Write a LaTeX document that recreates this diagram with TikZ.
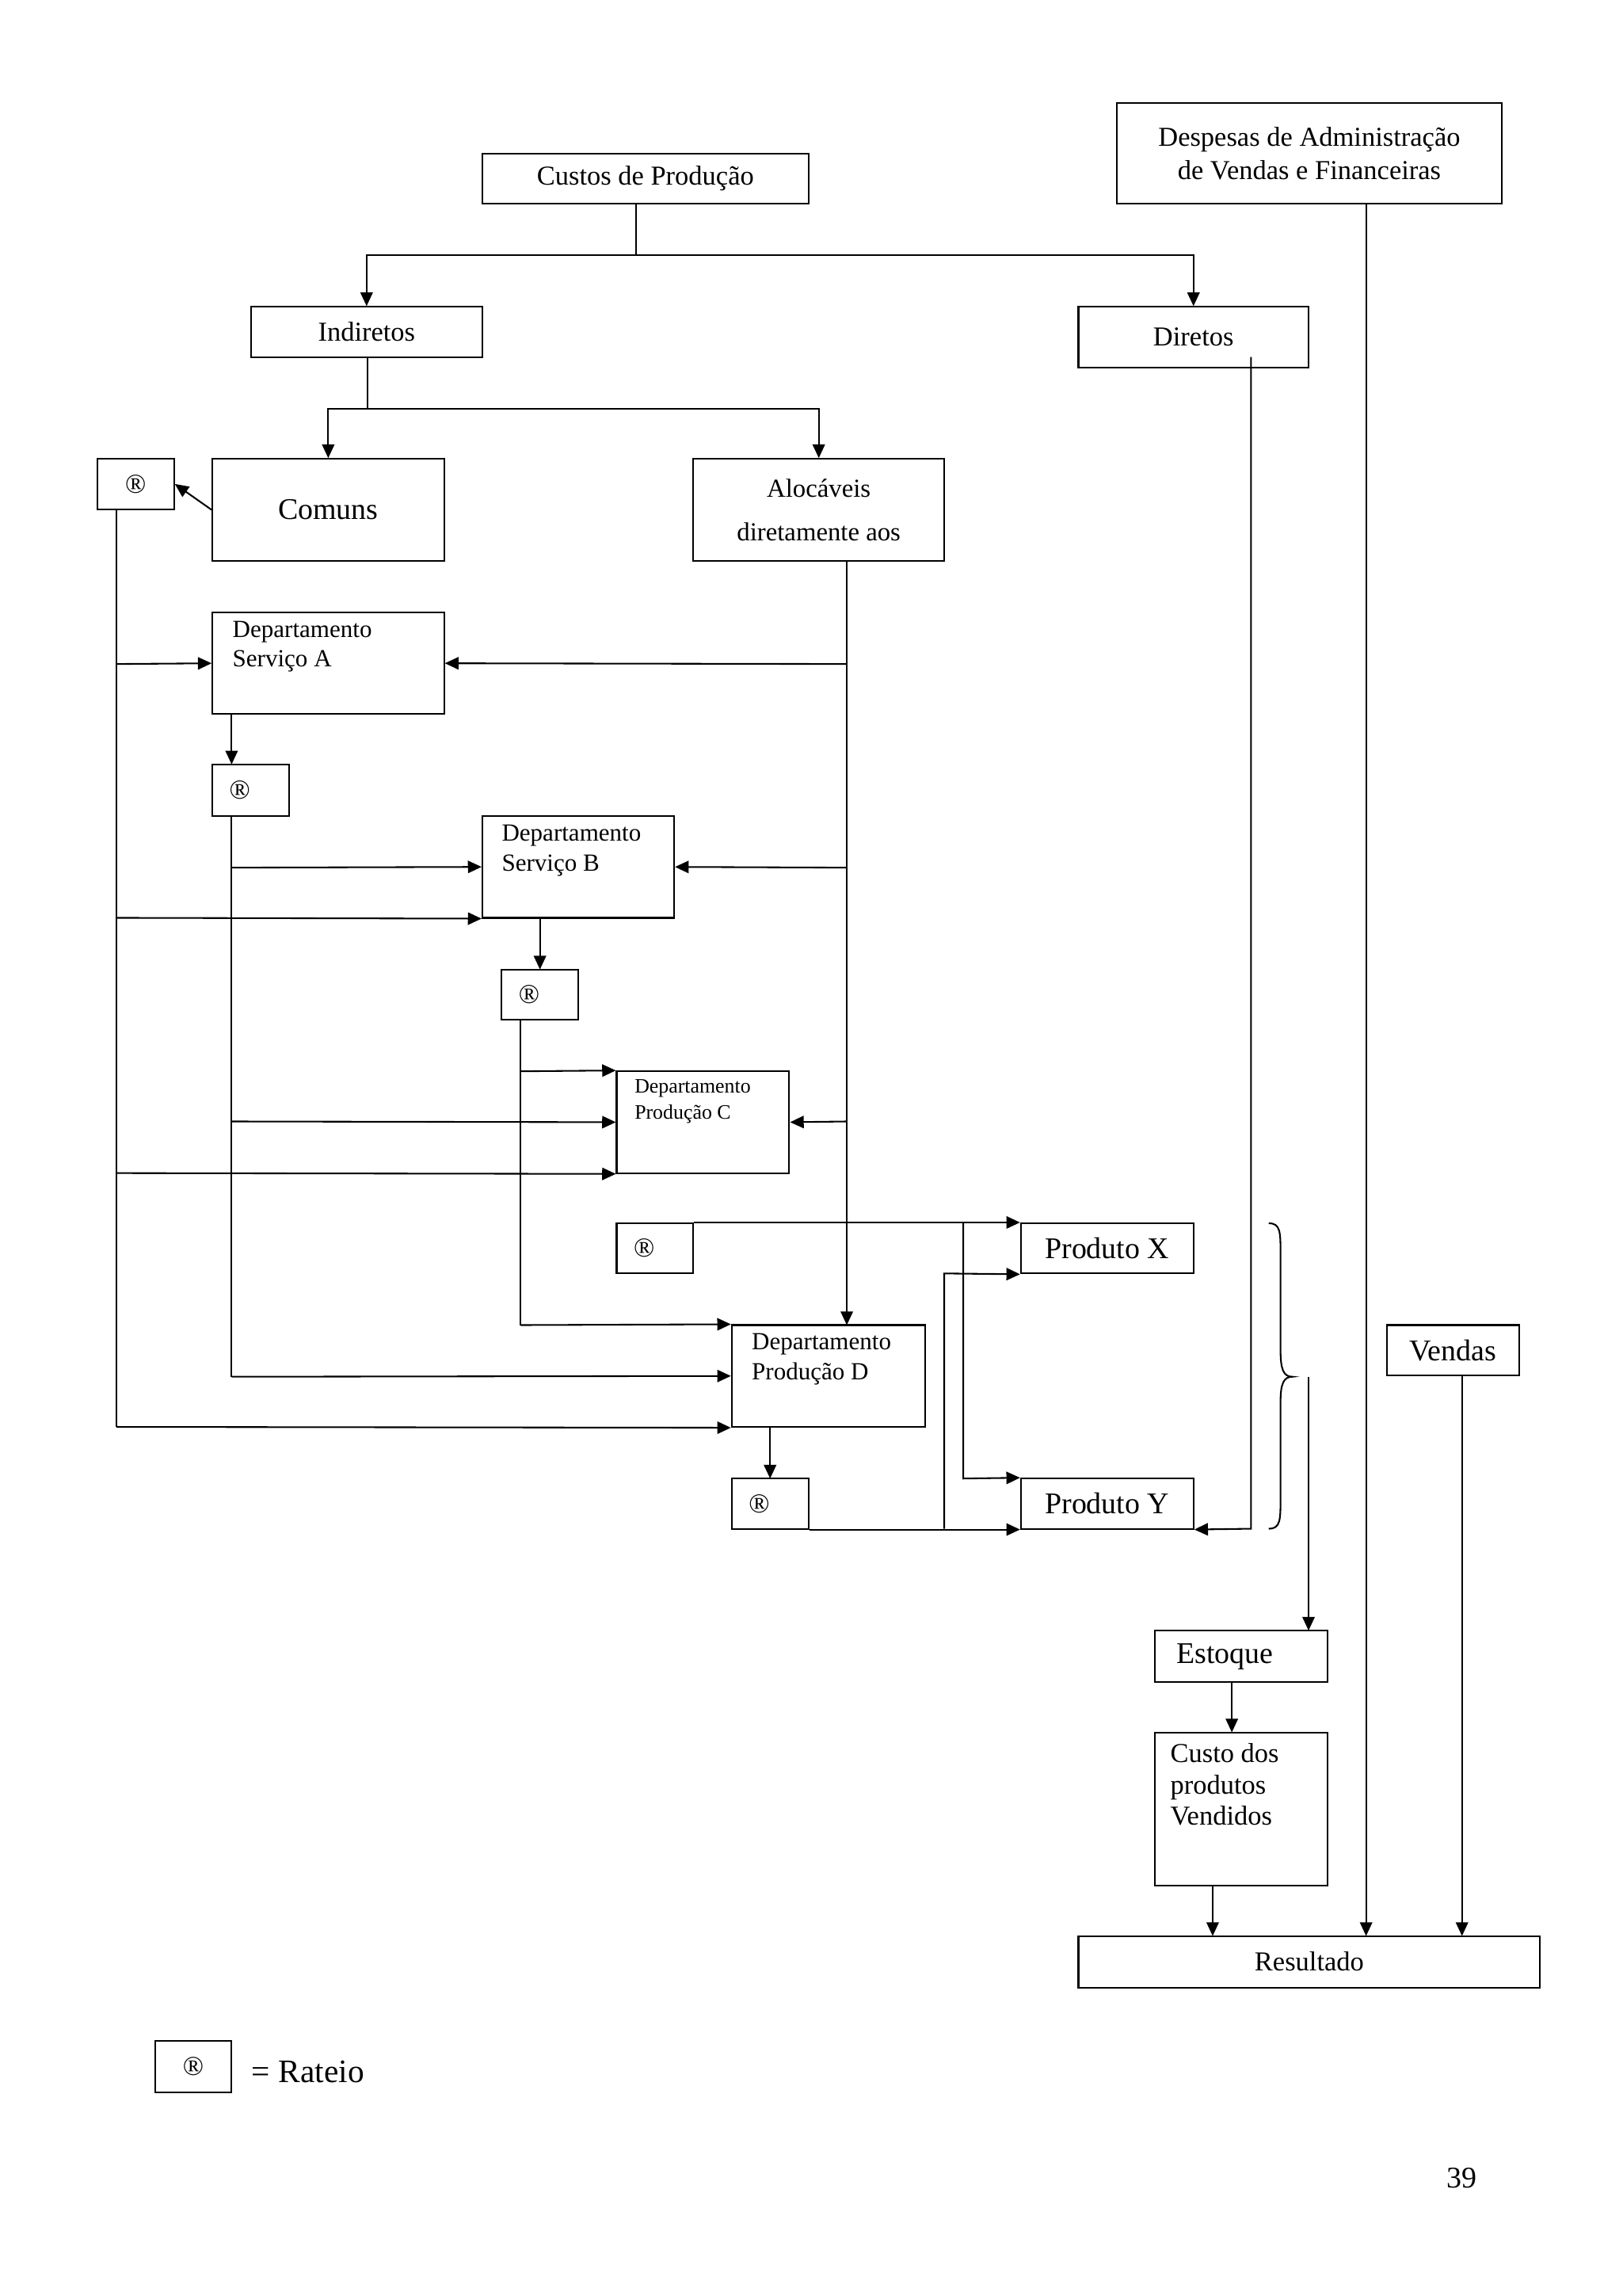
\documentclass[tikz,border=0pt]{standalone}
\usepackage{fontspec}
\setmainfont{Liberation Serif}
\usetikzlibrary{arrows.meta}
\begin{document}
\begin{tikzpicture}[x=0.54pt,y=-0.54pt,
  line width=0.6pt,
  arr/.style={-{Triangle[length=5pt,width=4.5pt]}},
  box/.style={draw,rectangle,inner sep=0pt,font=\fontsize{10}{12}\selectfont}]
\useasboundingbox (0,0) rectangle (1100,1556);
\newcommand\bx[6][]{%
  \pgfmathsetmacro\bw{(#4-#2)*0.54}\pgfmathsetmacro\bh{(#5-#3)*0.54}%
  \node[box,minimum width=\bw pt,minimum height=\bh pt,#1] (#6) at ({(#2+#4)/2},{(#3+#5)/2})}
\newcommand\dept[2]{\parbox[c][#1][t]{#2}}
\bx{327}{104}{548}{138}{cp}{Custos de Produção};
\bx[align=center]{757}{70}{1018}{138}{desp}{Despesas de Administração\\de Vendas e Financeiras};
\bx{170}{208}{327}{242}{ind}{Indiretos};
\bx{731}{208}{887}{249}{dir}{Diretos};
\bx{66}{311}{118}{345}{r1}{®};
\bx[font=\fontsize{11}{13}\selectfont]{144}{311}{301}{380}{com}{Comuns};
\bx[align=center,font=\fontsize{9.5}{16}\selectfont]{470}{311}{640}{380}{alo}{Alocáveis\\diretamente aos};
\bx[font=\fontsize{9}{11}\selectfont]{144}{415}{301}{484}{dA}{\dept{31pt}{70pt}{Departamento\\Serviço A}};
\bx{144}{518}{196}{553}{r2}{\hspace*{-8pt}®};
\bx[font=\fontsize{9}{11}\selectfont]{327}{553}{457}{622}{dB}{\dept{31pt}{56pt}{Departamento\\Serviço B}};
\bx{340}{657}{392}{691}{r3}{\hspace*{-8pt}®};
\bx[font=\fontsize{7.5}{9.5}\selectfont]{418}{726}{535}{795}{dC}{\dept{31pt}{50pt}{Departamento\\Produção C}};
\bx{418}{829}{470}{863}{r4}{\hspace*{-8pt}®};
\bx[font=\fontsize{11}{13}\selectfont]{692}{829}{809}{863}{pX}{Produto X};
\bx[font=\fontsize{9}{11}\selectfont]{496}{898}{627}{967}{dD}{\dept{31pt}{56pt}{Departamento\\Produção D}};
\bx{496}{1002}{548}{1036}{r5}{\hspace*{-8pt}®};
\bx[font=\fontsize{11}{13}\selectfont]{692}{1002}{809}{1036}{pY}{Produto Y};
\bx[font=\fontsize{11}{13}\selectfont]{940}{898}{1030}{932}{ven}{Vendas};
\bx[font=\fontsize{11}{13}\selectfont]{783}{1105}{900}{1140}{est}{\hspace*{-12pt}Estoque};
\bx[font=\fontsize{10}{11.5}\selectfont]{783}{1174}{900}{1278}{cpv}{\dept{48pt}{52pt}{Custo dos\\produtos\\Vendidos}};
\bx{731}{1312}{1044}{1347}{res}{Resultado};
\bx{105}{1383}{157}{1418}{leg}{®};
\node[anchor=west,font=\fontsize{12}{14}\selectfont] (rat) at (164,1404) {= Rateio};
\node[font=\fontsize{11}{13}\selectfont] (pg) at (991,1476) {39};
% top tree
\draw (431,138) -- (431,173);
\draw[arr] (431,173) -| (ind.north);
\draw[arr] (431,173) -| (dir.north);
\draw (249,242) -- (249,277);
\draw[arr] (249,277) -| (com.north);
\draw[arr] (249,277) -| (alo.north);
\draw[arr] (com.west) -- (r1.east);
% R1 trunk
\draw (79,345) -- (79,967);
\draw[arr] (79,450) -- (dA.west);
\draw[arr] (79,622) -- (dB.south west);
\draw[arr] (79,795) -- (dC.south west);
\draw[arr] (79,967) -- (dD.south west);
% Alocaveis trunk
\draw[arr] (574,380) -- (574,898);
\draw[arr] (574,450) -- (dA.east);
\draw[arr] (574,588) -- (dB.east);
\draw[arr] (574,760) -- (dC.east);
% A -> R2
\draw[arr] (157,484) -- (157,518);
\draw (157,553) -- (157,933);
\draw[arr] (157,588) -- (dB.west);
\draw[arr] (157,760) -- (dC.west);
\draw[arr] (157,933) -- (dD.west);
% B -> R3
\draw[arr] (366,622) -- (366,657);
\draw (353,691) -- (353,898);
\draw[arr] (353,726) -- (dC.north west);
\draw[arr] (353,898) -- (dD.north west);
% D -> R5
\draw[arr] (522,967) -- (522,1002);
% R4
\draw[arr] (r4.north east) -- (pX.north west);
\draw[arr] (653,829) -- (653,1002) -- (pY.north west);
% R5
\draw[arr] (r5.south east) -- (pY.south west);
\draw[arr] (640,1036) -- (640,863) -- (pX.south west);
% Diretos
\draw[arr] (848,242) -- (848,1036) -- (pY.south east);
% brace
\draw (860,829) .. controls (868,829) and (868,835) .. (868,850) -- (868,915)
  .. controls (868,928) and (870,933) .. (876,933)
  .. controls (870,933) and (868,938) .. (868,950) -- (868,1015)
  .. controls (868,1030) and (868,1036) .. (860,1036);
\draw[arr] (887,933) -- (887,1105);
% right column
\draw[arr] (926,138) -- (926,1312);
\draw[arr] (991,932) -- (991,1312);
\draw[arr] (835,1140) -- (835,1174);
\draw[arr] (822,1278) -- (822,1312);
\end{tikzpicture}
\end{document}
